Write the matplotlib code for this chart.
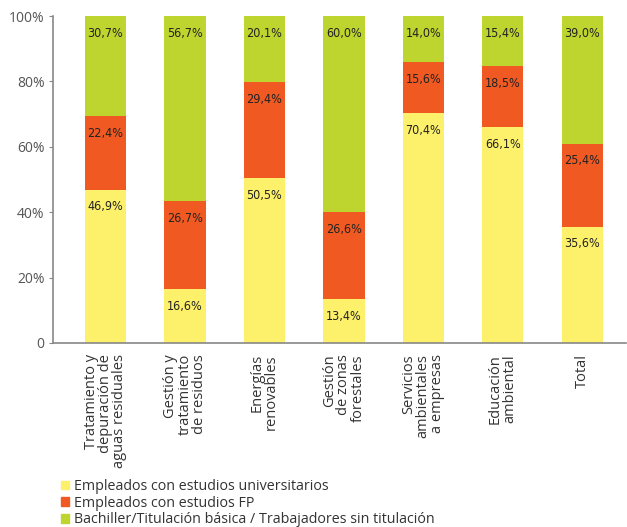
import matplotlib
matplotlib.use("Agg")
import matplotlib.pyplot as plt
import matplotlib.patches as mpatches
import numpy as np

categories = [
    "Tratamiento y\ndepuración de\naguas residuales",
    "Gestión y\ntratamiento\nde residuos",
    "Energías\nrenovables",
    "Gestión\nde zonas\nforestales",
    "Servicios\nambientales\na empresas",
    "Educación\nambiental",
    "Total",
]
universitarios = [46.9, 16.6, 50.5, 13.4, 70.4, 66.1, 35.6]
fp = [22.4, 26.7, 29.4, 26.6, 15.6, 18.5, 25.4]
bachiller = [30.7, 56.7, 20.1, 60.0, 14.0, 15.4, 39.0]
series_names = [
    "Empleados con estudios universitarios",
    "Empleados con estudios FP",
    "Bachiller/Titulación básica / Trabajadores sin titulación",
]
colors = ["#FDF16B", "#F05A22", "#BED52F"]
yticks = [0, 20, 40, 60, 80, 100]
yticklabels = ["0", "20%", "40%", "60%", "80%", "100%"]

plt.rcParams['font.family'] = ['Open Sans', 'DejaVu Sans']

fig = plt.figure(figsize=(6.27, 5.27), dpi=100)
ax = fig.add_axes([53/627, 1-343/527, (626-53)/627, (343-16)/527])

x = np.arange(len(categories))
width = 0.52
bottom = np.zeros(len(categories))
for vals, col in zip([universitarios, fp, bachiller], colors):
    vals = np.array(vals)
    ax.bar(x, vals, width, bottom=bottom, color=col, edgecolor='none')
    for xi, b, v in zip(x, bottom, vals):
        top = b + v
        ax.annotate(f"{v:.1f}%".replace('.', ','), (xi, top), xytext=(0, -12.5),
                    textcoords='offset points', ha='center', va='center',
                    fontsize=9, color='#222222',
                    family=['DejaVu Sans'], fontstretch='condensed')
    bottom = bottom + vals

ax.set_xlim(-0.66, 6.55)
ax.set_ylim(0, 100)
ax.set_yticks(yticks)
ax.set_yticklabels(yticklabels, fontsize=10, color='#555555')
ax.set_xticks(x)
ax.set_xticklabels(categories, rotation=90, fontsize=10.5, color='#333333',
                   ha='center', va='top', multialignment='right',
                   linespacing=0.95)
ax.tick_params(axis='x', length=0, pad=8)
ax.tick_params(axis='y', length=3, color='#888888', pad=3)
for s in ['top', 'right']:
    ax.spines[s].set_visible(False)
for s in ['left', 'bottom']:
    ax.spines[s].set_color('#888888')
    ax.spines[s].set_linewidth(1.2)

handles = [mpatches.Patch(color=c, label=n) for c, n in zip(colors, series_names)]
fig.legend(handles=handles, loc='upper left', bbox_to_anchor=(61/627, 1-479/527),
           frameon=False, fontsize=10.3, handlelength=0.55, handleheight=0.55,
           handletextpad=0.35, labelspacing=0.12, borderaxespad=0, borderpad=0,
           labelcolor='#333333')

fig.savefig("out.png", dpi=100)
